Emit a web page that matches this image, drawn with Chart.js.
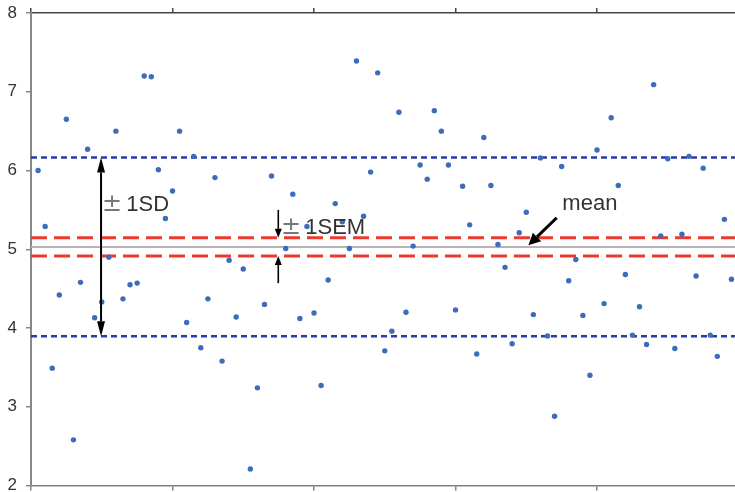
<!DOCTYPE html>
<html>
<head>
<meta charset="utf-8">
<script src="https://cdn.jsdelivr.net/npm/chart.js@4.4.1/dist/chart.umd.min.js"></script>
<style>
  html, body { margin: 0; padding: 0; background: #fff; overflow: hidden; }
  #chart { display: block; }
</style>
</head>
<body>
<canvas id="chart" width="735" height="492"></canvas>
<script>
// ── Datos ────────────────────────────────────────────────────
const SAMPLE_X = [
   1,  2,  3,  4,  5,  6,  7,  8,  9, 10,
  11, 12, 13, 14, 15, 16, 17, 18, 19, 20,
  21, 22, 23, 24, 25, 26, 27, 28, 29, 30,
  31, 32, 33, 34,     36, 37, 38, 39, 40,
  41, 42, 43, 44, 45, 46, 47, 48, 49, 50,
  51, 52, 53, 54, 55, 56, 57, 58, 59, 60,
  61, 62, 63, 64, 65, 66, 67, 68, 69, 70,
  71, 72, 73, 74, 75, 76, 77, 78, 79, 80,
  81, 82, 83, 84, 85, 86, 87, 88, 89, 90,
  91, 92, 93, 94, 95, 96, 97, 98, 99,
];
const SAMPLE_Y = [
  6.00, 5.29, 3.49, 4.42, 6.65, 2.58, 4.58, 6.27, 4.13, 4.33,
  4.90, 6.50, 4.37, 4.55, 4.57, 7.20, 7.19, 6.01, 5.39, 5.74,
  6.50, 4.07, 6.18, 3.75, 4.37, 5.91, 3.58, 4.86, 4.14, 4.75,
  2.21, 3.24, 4.30, 5.93,       5.01, 5.70, 4.12, 5.29, 4.19,
  3.27, 4.61, 5.58, 5.35, 5.01, 7.39, 5.42, 5.98, 7.24, 3.71,
  3.96, 6.74, 4.20, 5.04, 6.07, 5.89, 6.76, 6.50, 6.07, 4.23,
  5.80, 5.31, 3.67, 6.42, 5.81, 5.06, 4.77, 3.80, 5.21, 5.47,
  4.17, 6.16, 3.90, 2.88, 6.05, 4.60, 4.87, 4.16, 3.40, 6.26,
  4.31, 6.67, 5.81, 4.68, 3.91, 4.27, 3.79, 7.09, 5.17, 6.15,
  3.74, 5.19, 6.18, 4.66, 6.03, 3.91, 3.64, 5.38, 4.62,
];
const MEAN   = 5.03;
const SEM    = 0.115;
const SD     = 1.135;
const Y_TICKS = [2, 3, 4, 5, 6, 7, 8];
const X_TICKS = [0, 20, 40, 60, 80];
const X_MIN = 0, X_MAX = 99.5;

const hline = v => [{ x: X_MIN, y: v }, { x: X_MAX, y: v }];

// ── Anotaciones (flechas y textos) ───────────────────────────
function arrow(ctx, x1, y1, x2, y2, len, half, lw) {
  const a = Math.atan2(y2 - y1, x2 - x1);
  const bx = x2 - len * Math.cos(a), by = y2 - len * Math.sin(a);
  ctx.lineWidth = lw;
  ctx.beginPath(); ctx.moveTo(x1, y1); ctx.lineTo(bx, by); ctx.stroke();
  ctx.beginPath();
  ctx.moveTo(x2, y2);
  ctx.lineTo(bx + half * Math.sin(a), by - half * Math.cos(a));
  ctx.lineTo(bx - half * Math.sin(a), by + half * Math.cos(a));
  ctx.closePath(); ctx.fill();
}

const annotate = {
  id: 'annotate',
  afterDatasetsDraw(chart) {
    const { ctx, scales: { x, y } } = chart;
    ctx.save();
    ctx.strokeStyle = '#000'; ctx.fillStyle = '#000';

    // ± 1SD doble flecha
    const sx = x.getPixelForValue(9.9);
    const top = y.getPixelForValue(MEAN + SD), bot = y.getPixelForValue(MEAN - SD);
    const mid = (top + bot) / 2;
    arrow(ctx, sx, mid, sx, top, 15, 4, 2);
    arrow(ctx, sx, mid, sx, bot, 15, 4, 2);

    // ± 1SEM flechas
    const ex = x.getPixelForValue(34.95);
    arrow(ctx, ex, y.getPixelForValue(5.50), ex, y.getPixelForValue(MEAN + SEM), 9, 3.5, 1.6);
    arrow(ctx, ex, y.getPixelForValue(4.57), ex, y.getPixelForValue(MEAN - SEM), 9, 3.5, 1.6);

    // mean flecha
    arrow(ctx, x.getPixelForValue(74.3), y.getPixelForValue(5.40),
               x.getPixelForValue(70.3), y.getPixelForValue(MEAN + 0.02), 12, 6, 3);

    // textos
    ctx.textBaseline = 'alphabetic'; ctx.textAlign = 'left';
    const label = (pm, txt, vx, vy) => {
      const px = x.getPixelForValue(vx), py = y.getPixelForValue(vy);
      let off = 0;
      if (pm) {
        ctx.fillStyle = '#777';
        ctx.font = '24px "DejaVu Sans", sans-serif';
        ctx.fillText('±', px, py);
        off = ctx.measureText('±').width + 4;
      }
      ctx.font = '22px "Liberation Sans", Arial, sans-serif';
      ctx.fillStyle = '#333';
      ctx.fillText(txt, px + off, py);
    };
    label(true, '1SD', 10.05, 5.48);
    label(true, '1SEM', 35.35, 5.19);
    label(false, 'mean', 75.1, 5.50);
    ctx.restore();
  }
};

// ── Gráfica ──────────────────────────────────────────────────
const puntos = SAMPLE_X.map((v, i) => ({ x: v, y: SAMPLE_Y[i] }));
const lineDs = (data, color, width, dash) => ({
  type: 'line', data, borderColor: color, borderWidth: width, borderDash: dash,
  pointRadius: 0, fill: false, tension: 0,
});

new Chart(document.getElementById('chart'), {
  type: 'scatter',
  data: {
    datasets: [
      { data: puntos, backgroundColor: '#3d6cbb', borderWidth: 0, pointRadius: 2.7 },
      lineDs(hline(MEAN), '#b5b5b5', 2, []),
      lineDs(hline(MEAN + SEM), '#ee3a2e', 3, [16, 7]),
      lineDs(hline(MEAN - SEM), '#ee3a2e', 3, [16, 7]),
      lineDs(hline(MEAN + SD), '#2a3aa8', 2.5, [6, 4]),
      lineDs(hline(MEAN - SD), '#2a3aa8', 2.5, [6, 4]),
    ],
  },
  options: {
    responsive: false, animation: false,
    layout: { padding: 0, autoPadding: false },
    plugins: { legend: { display: false }, tooltip: { enabled: false } },
    scales: {
      x: {
        type: 'linear', position: 'bottom', min: X_MIN, max: X_MAX,
        afterBuildTicks: s => { s.ticks = X_TICKS.map(v => ({ value: v })); },
        afterFit: s => { s.height = 6.5; },
        ticks: { display: false },
        grid: { drawOnChartArea: false, drawTicks: true, tickLength: 5, color: '#808080', lineWidth: 1.5 },
        border: { color: '#808080', width: 1.5 },
      },
      x2: {
        type: 'linear', position: 'top', min: X_MIN, max: X_MAX,
        afterBuildTicks: s => { s.ticks = X_TICKS.map(v => ({ value: v })); },
        afterFit: s => { s.height = 13; },
        ticks: { display: false },
        grid: { drawOnChartArea: false, drawTicks: true, tickLength: 5, color: '#444', lineWidth: 1.5 },
        border: { color: '#444', width: 1.5 },
      },
      y: {
        type: 'linear', min: 2, max: 8,
        afterBuildTicks: s => { s.ticks = Y_TICKS.map(v => ({ value: v })); },
        afterFit: s => { s.width = 31; s.paddingTop = 0; s.paddingBottom = 0; },
        ticks: { font: { size: 17, family: '"Liberation Sans", Arial, sans-serif' }, color: '#333', padding: 9 },
        grid: { drawOnChartArea: false, drawTicks: true, tickLength: 5, color: '#888', lineWidth: 1.5 },
        border: { color: '#888', width: 2 },
      },
    },
  },
  plugins: [annotate],
});
</script>
</body>
</html>
